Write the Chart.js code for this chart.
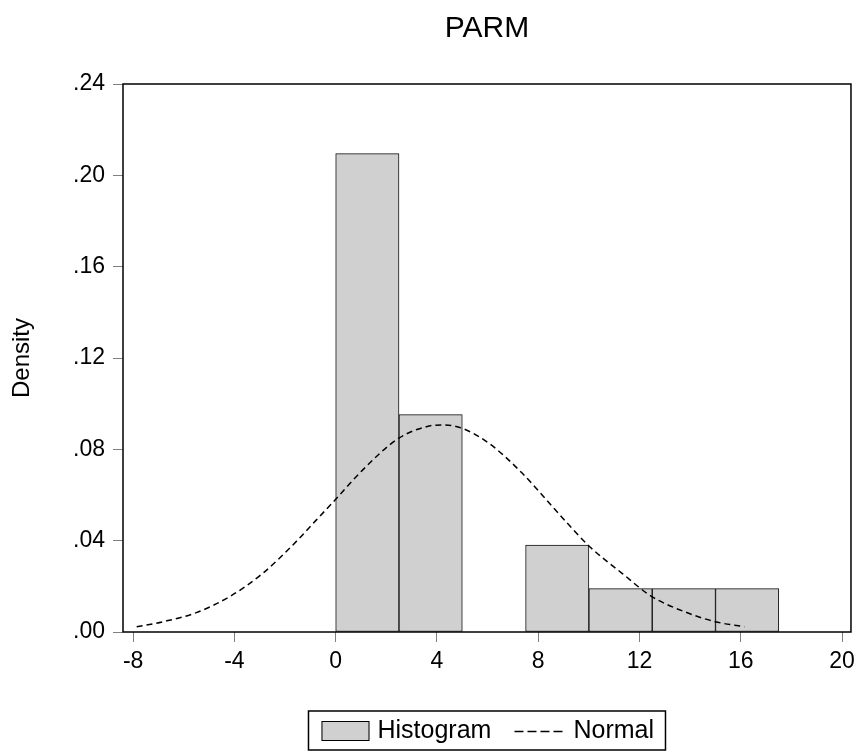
<!DOCTYPE html>
<html>
<head>
<meta charset="utf-8">
<script src="https://cdn.jsdelivr.net/npm/chart.js@4/dist/chart.umd.min.js"></script>
<style>
  html, body { margin: 0; padding: 0; background: #fff; }
  #wrap { width: 861px; height: 752px; }
</style>
</head>
<body>
<div id="wrap"><canvas id="c" width="861" height="752"></canvas></div>
<script>
// Histogram of PARM with a fitted normal density
const chartTitle = 'PARM';
const yAxisTitle = 'Density';
const seriesLabels = ['Histogram', 'Normal'];

// histogram bins (edges) and their densities
const binEdges = [0, 2.5, 5, 7.5, 10, 12.5, 15, 17.5];
const binDensity = [0.2095, 0.0952, 0, 0.0381, 0.0190, 0.0190, 0.0190];

// normal density curve, sampled points
const normalX = [-7.86, -6.82, -5.50, -4.19, -2.88, -1.56, -0.77, 0.00, 1.07, 2.48, 3.69, 4.28,
                 5.00, 6.06, 7.37, 8.68, 10.00, 11.31, 12.49, 13.94, 14.99, 16.14];
const normalY = [0.0023, 0.0045, 0.0085, 0.0155, 0.0257, 0.0396, 0.0490, 0.0581, 0.0710, 0.0848, 0.0902, 0.0907,
                 0.0892, 0.0826, 0.0695, 0.0534, 0.0377, 0.0257, 0.0155, 0.0082, 0.0045, 0.0023];

// axes
const xTicks = [-8, -4, 0, 4, 8, 12, 16, 20];
const xRange = [-8.4, 20.35];
const yTicks = [0, 0.04, 0.08, 0.12, 0.16, 0.20, 0.24];
const yTickLabels = ['.00', '.04', '.08', '.12', '.16', '.20', '.24'];
const yRange = [0, 0.24];

const FONT = '"Liberation Sans", Arial, Helvetica, sans-serif';
const BAR_FILL = '#d0d0d0';

const histPoints = binDensity.map((d, i) => ({ x: (binEdges[i] + binEdges[i + 1]) / 2, y: d }));
const normalPoints = normalX.map((x, i) => ({ x: x, y: normalY[i] }));

// frame, title and boxed legend
const decorations = {
  id: 'decorations',
  afterDraw(chart) {
    const ctx = chart.ctx;
    const a = chart.chartArea;
    const cx = (a.left + a.right) / 2;
    ctx.save();

    // plot frame
    ctx.strokeStyle = '#000';
    ctx.lineWidth = 1.5;
    ctx.strokeRect(a.left, a.top, a.right - a.left, a.bottom - a.top);

    // title
    ctx.fillStyle = '#000';
    ctx.font = '30px ' + FONT;
    ctx.textAlign = 'center';
    ctx.textBaseline = 'alphabetic';
    ctx.fillText(chartTitle, cx, 37);

    // legend box
    const boxW = 357, boxH = 39, boxTop = 711;
    const boxLeft = cx - boxW / 2;
    ctx.lineWidth = 1.5;
    ctx.strokeRect(boxLeft, boxTop, boxW, boxH);

    // histogram swatch
    const sx = boxLeft + 13, sy = boxTop + 10;
    ctx.fillStyle = BAR_FILL;
    ctx.fillRect(sx, sy, 48, 20);
    ctx.lineWidth = 1;
    ctx.strokeStyle = '#000';
    ctx.strokeRect(sx + 0.5, sy + 0.5, 47, 19);

    ctx.font = '25px ' + FONT;
    ctx.textAlign = 'left';
    ctx.fillStyle = '#000';
    const baseY = boxTop + 27;
    ctx.fillText(seriesLabels[0], sx + 56, baseY);

    // normal line sample
    const lx = boxLeft + 206;
    ctx.beginPath();
    ctx.setLineDash([9, 4]);
    ctx.lineWidth = 1.5;
    ctx.moveTo(lx, boxTop + 20.5);
    ctx.lineTo(lx + 48, boxTop + 20.5);
    ctx.stroke();
    ctx.setLineDash([]);
    ctx.fillText(seriesLabels[1], lx + 59, baseY);

    ctx.restore();
  }
};

new Chart(document.getElementById('c'), {
  type: 'bar',
  data: {
    datasets: [
      {
        type: 'line',
        label: seriesLabels[1],
        data: normalPoints,
        borderColor: '#000',
        borderWidth: 1.5,
        borderDash: [6, 4],
        pointRadius: 0,
        fill: false,
        cubicInterpolationMode: 'monotone',
        order: 0
      },
      {
        type: 'bar',
        label: seriesLabels[0],
        data: histPoints,
        backgroundColor: BAR_FILL,
        borderColor: '#111',
        borderWidth: 1,
        borderSkipped: false,
        barPercentage: 1,
        categoryPercentage: 1,
        order: 1
      }
    ]
  },
  options: {
    responsive: false,
    animation: false,
    devicePixelRatio: 1,
    layout: { padding: { top: 84, right: 8, bottom: 0, left: 0 } },
    plugins: {
      legend: { display: false },
      title: { display: false },
      tooltip: { enabled: false }
    },
    scales: {
      x: {
        type: 'linear',
        min: xRange[0],
        max: xRange[1],
        offset: false,
        afterBuildTicks: s => { s.ticks = xTicks.map(v => ({ value: v })); },
        afterFit: s => { s.height = 120; },
        border: { display: false },
        grid: { offset: false, drawOnChartArea: false, drawTicks: true, tickLength: 10, color: '#808080', lineWidth: 1 },
        ticks: {
          autoSkip: false, maxRotation: 0, minRotation: 0,
          padding: 6, color: '#000', font: { family: FONT, size: 23 },
          callback: v => String(v)
        }
      },
      y: {
        type: 'linear',
        min: yRange[0],
        max: yRange[1],
        afterBuildTicks: s => { s.ticks = yTicks.map(v => ({ value: v })); },
        afterFit: s => { s.width = 123; },
        border: { display: false },
        grid: { offset: false, drawOnChartArea: false, drawTicks: true, tickLength: 10, color: '#808080', lineWidth: 1 },
        ticks: {
          autoSkip: false, padding: 8, color: '#000', font: { family: FONT, size: 23 },
          callback: (v, i) => yTickLabels[i]
        },
        title: {
          display: true, text: yAxisTitle, color: '#000',
          font: { family: FONT, size: 24 }, padding: { top: 8, bottom: 0 }
        }
      }
    }
  },
  plugins: [decorations]
});
</script>
</body>
</html>
